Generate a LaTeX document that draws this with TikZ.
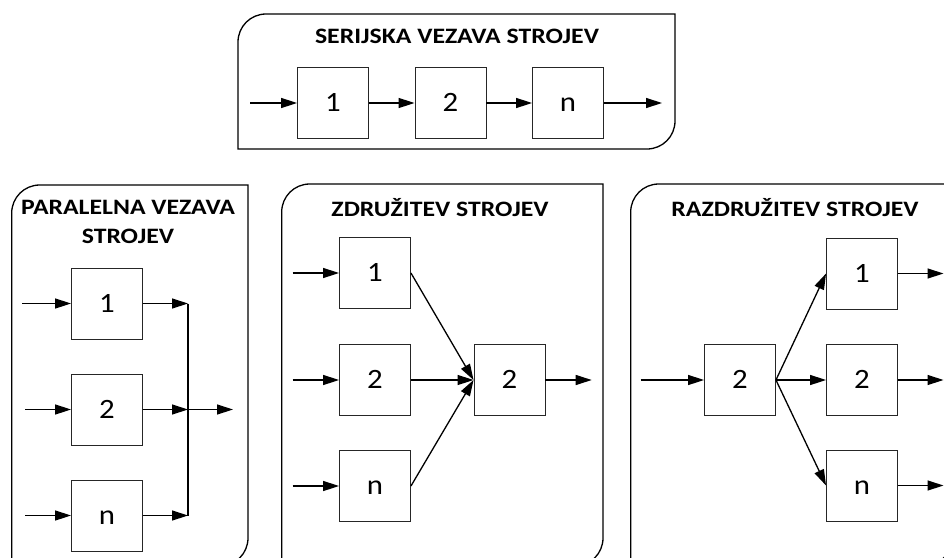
\documentclass[tikz,border=0pt]{standalone}
\usepackage{fontspec}
\setmainfont{Carlito}
\newfontfamily\headfont[FakeStretch=1.17]{Carlito}
\newfontfamily\numfont[FakeStretch=1.1]{Carlito}
\usetikzlibrary{arrows.meta}
% frame with rounded top-left and bottom-right corners: #1 left, #2 top, #3 right, #4 bottom
\newcommand\panelframe[4]{%
  \draw[panel] (#1,#4) -- (#1,#2+28) arc[start angle=180,end angle=90,radius=28pt]
    -- (#3,#2) -- (#3,#4-28) arc[start angle=0,end angle=-90,radius=28pt] -- cycle;}
\begin{document}
\begin{tikzpicture}[x=1pt,y=-1pt,
  machine/.style={draw=black!85, line width=0.9pt, minimum width=71pt, minimum height=71pt,
    inner sep=0pt, text height=17.7pt, text depth=0pt, font=\numfont\fontsize{28}{32}\selectfont},
  flow/.style={line width=1.3pt, -{Triangle[length=16pt,width=10pt]}},
  panel/.style={line width=1.3pt},
  heading/.style={font=\headfont\bfseries\fontsize{22}{29}\selectfont, align=center}]
\useasboundingbox (0,0) rectangle (944,557);
\clip (0,0) rectangle (944,557);

% frames
\panelframe{238}{14}{675}{149}
\panelframe{11.7}{185}{248}{566}
\panelframe{281.7}{184}{603}{566}
\panelframe{630.7}{184}{952}{566}

% serial connection
\node[heading] (ts) at (457,36) {SERIJSKA VEZAVA STROJEV};
\node[machine] (s1) at (333,103) {1};
\node[machine] (s2) at (450.5,103) {2};
\node[machine] (sn) at (568,103) {n};
\coordinate (sin) at (250,103);
\coordinate (sout) at (662,103);
\draw[flow] (sin) -- (s1);
\draw[flow] (s1) -- (s2);
\draw[flow] (s2) -- (sn);
\draw[flow] (sn) -- (sout);

% parallel connection
\node[heading] (tp) at (128,222) {PARALELNA VEZAVA\\STROJEV};
\node[machine] (p1) at (107,303.5) {1};
\node[machine] (p2) at (107,409.5) {2};
\node[machine] (pn) at (107,515.5) {n};
\coordinate (pin1) at (22,303.5);
\coordinate (pin2) at (25,409.5);
\coordinate (pinn) at (25,515.5);
\coordinate (pj1) at (188,303.5);
\coordinate (pj2) at (188,409.5);
\coordinate (pjn) at (188,515.5);
\coordinate (pout) at (233,409.5);
\draw[flow] (pin1) -- (p1);
\draw[flow] (pin2) -- (p2);
\draw[flow] (pinn) -- (pn);
\draw[flow] (p1) -- (pj1);
\draw[flow] (p2) -- (pj2);
\draw[flow] (pn) -- (pjn);
\draw[line width=1.3pt] (pj1) -- (pjn);
\draw[flow] (pj2) -- (pout);

% merging
\node[heading] (tz) at (440,208) {ZDRUŽITEV STROJEV};
\node[machine] (z1) at (375,273) {1};
\node[machine] (z2) at (375,380) {2};
\node[machine] (zn) at (375,486) {n};
\node[machine] (zm) at (509.5,380) {2};
\coordinate (zin1) at (292.7,273);
\coordinate (zin2) at (292.7,380);
\coordinate (zinn) at (292.7,486);
\coordinate (zout) at (591.7,380);
\draw[flow] (zin1) -- (z1);
\draw[flow] (zin2) -- (z2);
\draw[flow] (zinn) -- (zn);
\draw[flow] (z1.east) -- (zm.west);
\draw[flow] (z2.east) -- (zm.west);
\draw[flow] (zn.east) -- (zm.west);
\draw[flow] (zm) -- (zout);

% splitting
\node[heading] (tr) at (795,208) {RAZDRUŽITEV STROJEV};
\node[machine] (rs) at (740,380) {2};
\node[machine] (r1) at (862,273.5) {1};
\node[machine] (r2) at (862,380) {2};
\node[machine] (rn) at (862,485.5) {n};
\coordinate (rin) at (640.7,380);
\coordinate (rout1) at (943.5,273.5);
\coordinate (rout2) at (943.5,380);
\coordinate (routn) at (943.5,485.5);
\draw[flow] (rin) -- (rs);
\draw[flow] (rs.east) -- (r1.west);
\draw[flow] (rs.east) -- (r2.west);
\draw[flow] (rs.east) -- (rn.west);
\draw[flow] (r1) -- (rout1);
\draw[flow] (r2) -- (rout2);
\draw[flow] (rn) -- (routn);
\end{tikzpicture}
\end{document}
